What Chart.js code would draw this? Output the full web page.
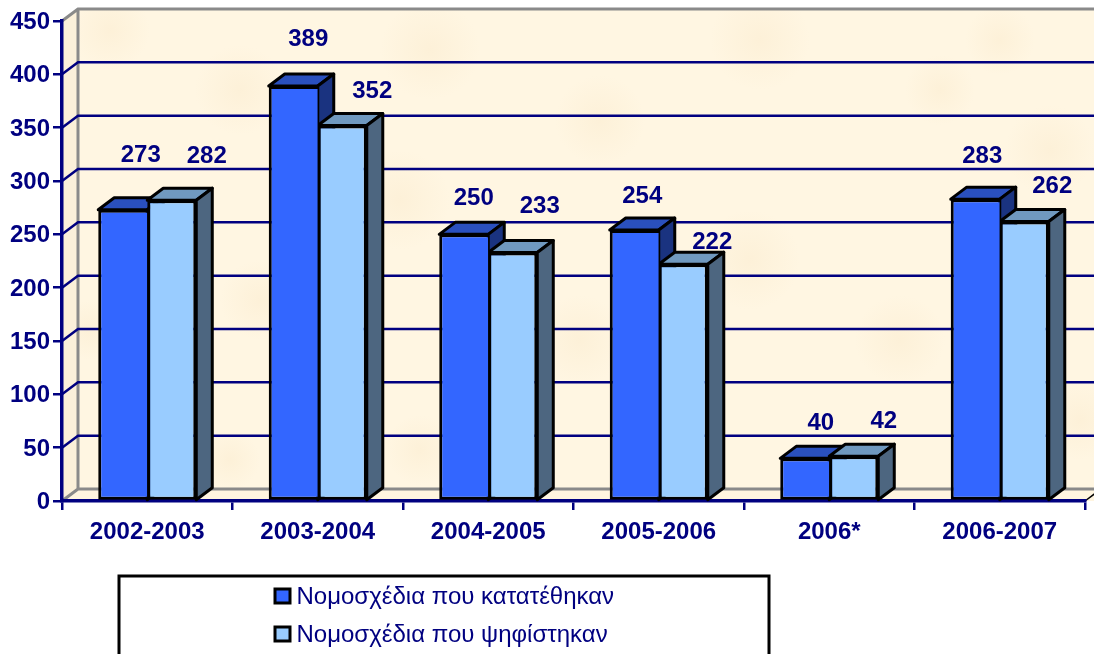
<!DOCTYPE html>
<html lang="el">
<head>
<meta charset="utf-8">
<style>
html,body{margin:0;padding:0;background:#fff;overflow:hidden;width:1094px;height:654px}
canvas{display:block}
</style>
<script src="https://cdn.jsdelivr.net/npm/chart.js@4"></script>
</head>
<body>
<canvas id="c" width="1094" height="654"></canvas>
<script>
const categories = ["2002-2003","2003-2004","2004-2005","2005-2006","2006*","2006-2007"];
const filedBills = [273,389,250,254,40,283];
const passedBills = [282,352,233,222,42,262];
const seriesNames = ["Νομοσχέδια που κατατέθηκαν","Νομοσχέδια που ψηφίστηκαν"];
const navy = "#000080";
const depthX = 16, depthY = 12;
const faces = [
  {top:"#2A50BE", side:"#1A3380"},
  {top:"#7099BF", side:"#4D6680"}
];
// hand-placed label nudges of the original (dx, distance above bar top)
const labelNudge = [
  [[18,54],[15,47],[10,36],[8,34],[16,35],[7,43]],
  [[35,44],[30,34],[27,46],[29,22],[30,35],[28,35]]
];
const blotches = [[110,30,40],[240,90,45],[430,50,50],[600,120,45],[760,40,50],[1000,40,35],[1050,150,45],[260,300,40],[400,200,50],[580,340,45],[750,260,50],[900,340,45],[1080,420,40],[90,330,30],[660,440,35],[940,90,35],[420,450,35],[230,460,30]];

const scene = {
  id:"scene",
  beforeDraw(chart){
    const {ctx, chartArea:a, scales:{y}} = chart;
    const W = chart.width, L=a.left, B=a.bottom, T=a.top;
    ctx.save();
    ctx.fillStyle="#FFF6E2";
    ctx.fillRect(L+depthX,T-depthY,W,B-T);
    ctx.save();
    ctx.beginPath();ctx.rect(L+depthX,T-depthY,W,B-T);ctx.clip();
    blotches.forEach(([bx,by,r])=>{
      const g=ctx.createRadialGradient(bx,by,0,bx,by,r);
      g.addColorStop(0,"rgba(251,236,208,.55)");g.addColorStop(1,"rgba(251,236,208,0)");
      ctx.fillStyle=g;ctx.fillRect(bx-r,by-r,2*r,2*r);
    });
    ctx.restore();
    ctx.fillStyle="#FBF0DA";
    ctx.beginPath();ctx.moveTo(L,T);ctx.lineTo(L+depthX,T-depthY);ctx.lineTo(L+depthX,B-depthY);ctx.lineTo(L,B);ctx.closePath();ctx.fill();
    ctx.fillStyle="#FFF5E0";
    ctx.beginPath();ctx.moveTo(L,B);ctx.lineTo(L+depthX,B-depthY);ctx.lineTo(W+20,B-depthY);ctx.lineTo(W+20,B);ctx.closePath();ctx.fill();
    ctx.strokeStyle="#8A8A8A";ctx.lineWidth=3;
    ctx.beginPath();
    ctx.moveTo(L,T);ctx.lineTo(L+depthX,T-depthY);ctx.lineTo(W+20,T-depthY);
    ctx.moveTo(L+depthX,T-depthY);ctx.lineTo(L+depthX,B-depthY);ctx.lineTo(W+20,B-depthY);
    ctx.moveTo(L,B);ctx.lineTo(L+depthX,B-depthY);
    ctx.stroke();
    y.ticks.forEach(t=>{
      if(t.value===0||t.value===y.max) return;
      const py=y.getPixelForValue(t.value);
      ctx.strokeStyle=navy;ctx.lineWidth=2.5;
      ctx.beginPath();ctx.moveTo(L,py);ctx.lineTo(L+depthX,py-depthY);ctx.lineTo(W+20,py-depthY);ctx.stroke();
    });
    ctx.strokeStyle="#000";ctx.lineWidth=1.5;
    ctx.beginPath();ctx.moveTo(a.right,B);ctx.lineTo(a.right+depthX,B-depthY);ctx.stroke();
    ctx.restore();
  },
  beforeDatasetsDraw(chart){
    const ctx=chart.ctx;
    ctx.save();
    ctx.lineWidth=3;ctx.strokeStyle="#000";ctx.lineJoin="round";
    [0,1].forEach(ds=>{
      chart.getDatasetMeta(ds).data.forEach(bar=>{
        const {x,y,base,width}=bar.getProps(["x","y","base","width"]);
        const l=x-width/2,r=x+width/2;
        ctx.fillStyle=faces[ds].top;
        ctx.beginPath();ctx.moveTo(l,y);ctx.lineTo(l+depthX,y-depthY);ctx.lineTo(r+depthX,y-depthY);ctx.lineTo(r,y);ctx.closePath();ctx.fill();ctx.stroke();
        ctx.fillStyle=faces[ds].side;
        ctx.beginPath();ctx.moveTo(r,y);ctx.lineTo(r+depthX,y-depthY);ctx.lineTo(r+depthX,base-depthY);ctx.lineTo(r,base);ctx.closePath();ctx.fill();ctx.stroke();
      });
    });
    ctx.restore();
  },
  afterDatasetsDraw(chart){
    const ctx=chart.ctx;
    ctx.save();
    ctx.fillStyle=navy;ctx.font='bold 24px "Liberation Sans"';ctx.textAlign="center";ctx.textBaseline="middle";
    chart.data.datasets.forEach((d,ds)=>{
      chart.getDatasetMeta(ds).data.forEach((bar,i)=>{
        const n=labelNudge[ds][i];
        ctx.fillText(String(d.data[i]),bar.x+n[0],bar.y-n[1]);
      });
    });
    ctx.restore();
  },
  afterDraw(chart){
    const ctx=chart.ctx;
    ctx.save();
    ctx.fillStyle="#fff";ctx.strokeStyle="#000";ctx.lineWidth=3;
    ctx.beginPath();ctx.rect(119,576,650,90);ctx.fill();ctx.stroke();
    ctx.font='24px "Liberation Sans"';ctx.textBaseline="middle";ctx.textAlign="left";
    chart.data.datasets.forEach((d,i)=>{
      const cy=596+38*i;
      ctx.fillStyle=d.backgroundColor;ctx.strokeStyle="#000";ctx.lineWidth=3;
      ctx.fillRect(275,cy-7,15,14);ctx.strokeRect(275,cy-7,15,14);
      ctx.fillStyle=navy;
      ctx.fillText(d.label,296.5,cy+1);
    });
    ctx.restore();
  }
};

new Chart(document.getElementById("c"),{
  type:"bar",
  data:{labels:categories,datasets:[
    {label:seriesNames[0],data:filedBills,backgroundColor:"#3366FF",borderColor:"#000",borderWidth:3,borderSkipped:"right",categoryPercentage:0.575,barPercentage:1},
    {label:seriesNames[1],data:passedBills,backgroundColor:"#99CCFF",borderColor:"#000",borderWidth:3,borderSkipped:false,categoryPercentage:0.575,barPercentage:1}
  ]},
  plugins:[scene],
  options:{
    responsive:false,animation:false,devicePixelRatio:1,
    layout:{padding:{top:21,right:9,left:0,bottom:0}},
    plugins:{legend:{display:false},tooltip:{enabled:false},title:{display:false}},
    scales:{
      x:{
        z:1,
        afterFit(s){s.height=153;},
        grid:{display:true,drawOnChartArea:false,drawTicks:true,tickLength:9,color:navy,lineWidth:2.5,offset:true},
        border:{display:true,color:navy,width:3.5},
        ticks:{color:navy,font:{family:'"Liberation Sans"',size:24,weight:"bold"},padding:8,maxRotation:0,autoSkip:false}
      },
      y:{
        min:0,max:450,
        afterFit(s){s.width=62;},
        grid:{display:true,drawOnChartArea:false,drawTicks:true,tickLength:9,color:navy,lineWidth:2.5},
        border:{display:true,color:navy,width:3.5},
        ticks:{stepSize:50,color:navy,font:{family:'"Liberation Sans"',size:24,weight:"bold"},padding:3,labelOffset:1.5}
      }
    }
  }
});
</script>
</body>
</html>
